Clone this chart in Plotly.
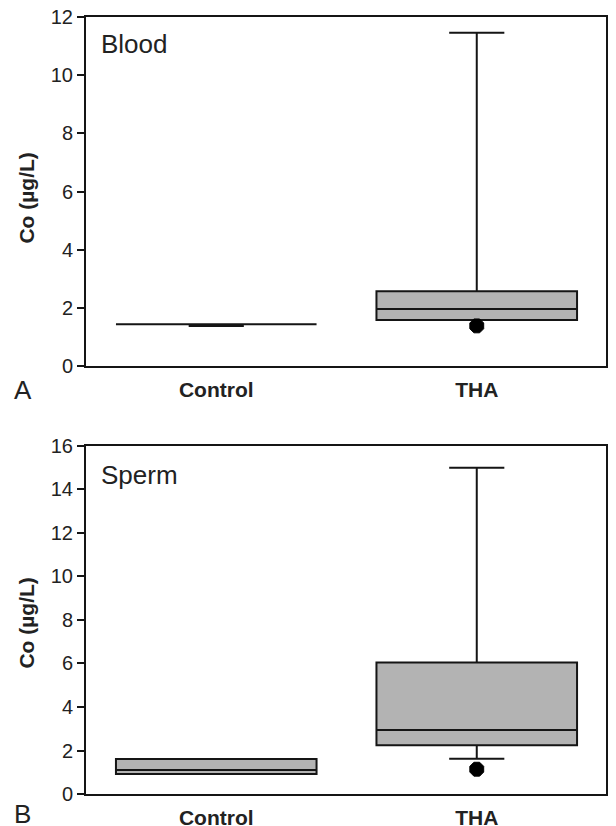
import plotly.graph_objects as go

categories = ["Control", "THA"]

# Panel A: Blood Co (µg/L)
blood_q1 = [1.44, 1.58]
blood_median = [1.44, 1.96]
blood_q3 = [1.44, 2.57]
blood_lower = [1.38, 1.58]
blood_upper = [1.44, 11.46]
blood_outlier_x = ["THA"]
blood_outlier_y = [1.38]

# Panel B: Sperm Co (µg/L)
sperm_q1 = [0.92, 2.24]
sperm_median = [1.10, 2.94]
sperm_q3 = [1.61, 6.05]
sperm_lower = [0.92, 1.62]
sperm_upper = [1.61, 15.0]
sperm_outlier_x = ["THA"]
sperm_outlier_y = [1.14]

blood_ticks = [0, 2, 4, 6, 8, 10, 12]
sperm_ticks = [0, 2, 4, 6, 8, 10, 12, 14, 16]

FONT = "Liberation Sans, Arial, Helvetica, sans-serif"
LINE = "#151515"
FILL = "#b3b3b3"
TXT = "#222222"

fig = go.Figure()

box_style = dict(
    fillcolor=FILL,
    line=dict(color=LINE, width=2),
    width=0.77,
    whiskerwidth=0.275,
    boxpoints=False,
    hoverinfo="skip",
    showlegend=False,
)

fig.add_trace(go.Box(
    x=categories, q1=blood_q1, median=blood_median, q3=blood_q3,
    lowerfence=blood_lower, upperfence=blood_upper,
    xaxis="x", yaxis="y", **box_style))
fig.add_trace(go.Box(
    x=categories, q1=sperm_q1, median=sperm_median, q3=sperm_q3,
    lowerfence=sperm_lower, upperfence=sperm_upper,
    xaxis="x2", yaxis="y2", **box_style))

marker_style = dict(symbol="octagon", size=15, color="#000000",
                    line=dict(color="#000000", width=1))
fig.add_trace(go.Scatter(x=blood_outlier_x, y=blood_outlier_y, mode="markers",
                         marker=marker_style, xaxis="x", yaxis="y3",
                         showlegend=False, hoverinfo="skip"))
fig.add_trace(go.Scatter(x=sperm_outlier_x, y=sperm_outlier_y, mode="markers",
                         marker=marker_style, xaxis="x2", yaxis="y4",
                         showlegend=False, hoverinfo="skip"))

xr = [-0.5, 1.5345]
right_pos = 0.983

xaxis_common = dict(
    type="category", range=xr, showline=True, linecolor=LINE, linewidth=2,
    mirror=True, showgrid=False, zeroline=False, ticks="outside", ticklen=4,
    tickcolor="rgba(0,0,0,0)", tickfont=dict(family=FONT, size=21, color=TXT),
    automargin=False, ticklabeloverflow="allow",
)
yaxis_common = dict(
    showline=True, linecolor=LINE, linewidth=2, showgrid=False, zeroline=False,
    ticks="outside", ticklen=7, tickwidth=2, tickcolor=LINE,
    tickfont=dict(family=FONT, size=20, color=TXT), automargin=False,
    ticklabeloverflow="allow",
)
right_common = dict(
    showline=True, linecolor=LINE, linewidth=2, showgrid=False, zeroline=False,
    ticks="outside", ticklen=9, tickwidth=2, tickcolor=LINE,
    showticklabels=False, side="right", anchor="free", position=right_pos,
)


def bold(labels):
    return ["<b>%s</b>" % c for c in labels]


# the page body adds an 8 px offset, so the figure is 8 px smaller
fig.update_layout(
    width=608, height=818,
    margin=dict(l=78, r=0, t=9, b=32),
    paper_bgcolor="white", plot_bgcolor="white",
    showlegend=False,
    xaxis=dict(anchor="y", domain=[0, 1], tickvals=categories,
               ticktext=bold(categories), **xaxis_common),
    yaxis=dict(anchor="x", domain=[0.5508, 1], range=[0, 12],
               tickvals=blood_ticks, **yaxis_common),
    yaxis3=dict(overlaying="y", range=[0, 12], tickvals=blood_ticks,
                **right_common),
    xaxis2=dict(anchor="y2", domain=[0, 1], tickvals=categories,
                ticktext=bold(categories), **xaxis_common),
    yaxis2=dict(anchor="x2", domain=[0, 0.4479], range=[0, 16],
                tickvals=sperm_ticks, **yaxis_common),
    yaxis4=dict(overlaying="y2", range=[0, 16], tickvals=sperm_ticks,
                **right_common),
)

ann_font = dict(family=FONT, size=26, color=TXT)
fig.add_annotation(text="Blood", xref="x domain", yref="y domain",
                   x=0.024, y=0.922, xanchor="left", yanchor="middle",
                   showarrow=False, font=ann_font)
fig.add_annotation(text="Sperm", xref="x2 domain", yref="y2 domain",
                   x=0.024, y=0.917, xanchor="left", yanchor="middle",
                   showarrow=False, font=ann_font)
fig.add_annotation(text="A", xref="paper", yref="paper", x=-0.119, y=0.52,
                   xanchor="center", yanchor="middle", showarrow=False,
                   font=ann_font)
fig.add_annotation(text="B", xref="paper", yref="paper", x=-0.119, y=-0.0257,
                   xanchor="center", yanchor="middle", showarrow=False,
                   font=ann_font)

title_font = dict(family=FONT, size=21, color=TXT)
fig.add_annotation(text="<b>Co (µg/L)</b>", xref="paper", yref="y domain",
                   x=-0.113, y=0.48, textangle=-90, xanchor="center",
                   yanchor="middle", showarrow=False, font=title_font)
fig.add_annotation(text="<b>Co (µg/L)</b>", xref="paper", yref="y2 domain",
                   x=-0.113, y=0.49, textangle=-90, xanchor="center",
                   yanchor="middle", showarrow=False, font=title_font)

fig.write_html("out.html")
